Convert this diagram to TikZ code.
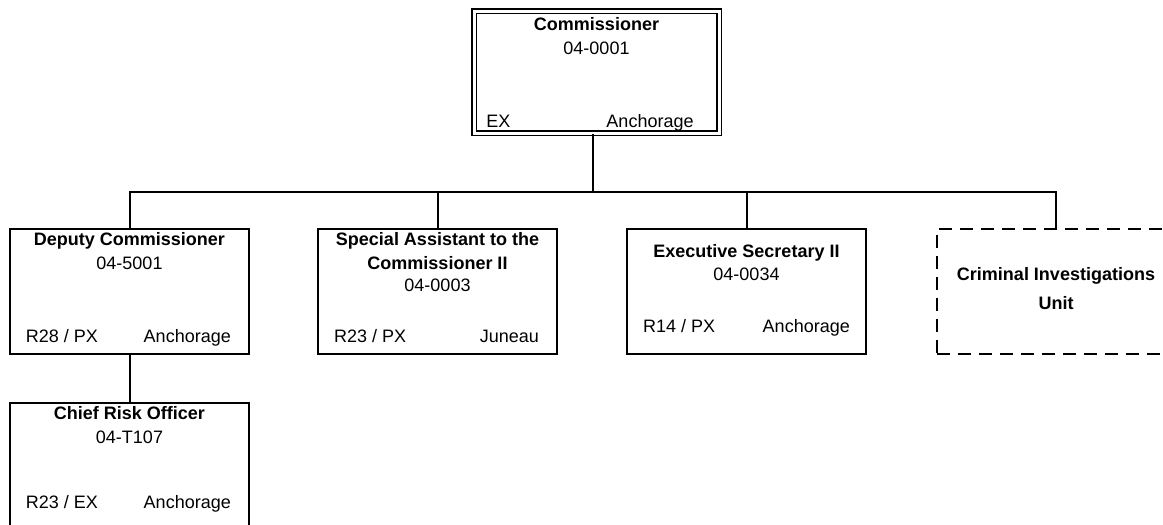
\documentclass[tikz,border=0pt]{standalone}
\usepackage{fontspec}
\setmainfont{Liberation Sans}
\usetikzlibrary{calc}
\tikzset{
  postbox/.style={draw=black,line width=2pt,minimum width=239pt,minimum height=125pt,inner sep=0pt},
  headbox/.style={postbox,double,line width=1.5pt,double distance=3pt,minimum width=245pt,minimum height=122pt},
  unitbox/.style={postbox,dash pattern=on 13pt off 8pt},
  linkline/.style={line width=2pt},
  ttl/.style={anchor=base,inner sep=0pt,font=\fontsize{18pt}{21pt}\selectfont\bfseries},
  idnum/.style={anchor=base,inner sep=0pt,font=\fontsize{18pt}{21pt}\selectfont},
  grade/.style={idnum,anchor=base west},
  city/.style={idnum,anchor=base east},
}
\begin{document}
\begin{tikzpicture}[x=1pt,y=-1pt]
  \useasboundingbox (0,0) rectangle (1163,525);
  \clip (0,0) rectangle (1163,525);

  % boxes
  \node[headbox] (com) at (596.5,72) {};
  \node[postbox] (dep) at (129.5,291) {};
  \node[postbox] (spc) at (437.5,291) {};
  \node[postbox] (exe) at (746.5,291) {};
  \node[unitbox] (cri) at (1056,291) {};
  \node[postbox] (chf) at (129.5,465.5) {};

  % commissioner
  \node[ttl] (comT) at ($(com.north)+(0,20.7)$) {Commissioner};
  \node[idnum] (comN) at ($(com.north)+(0,44)$) {04-0001};
  \node[grade] (comG) at ($(com.north west)+(13,117)$) {EX};
  \node[city] (comC) at ($(com.north east)+(-26,117)$) {Anchorage};

  % deputy
  \node[ttl] (depT) at ($(dep.north)+(0,18.2)$) {Deputy Commissioner};
  \node[idnum] (depN) at ($(dep.north)+(0,41.5)$) {04-5001};
  \node[grade] (depG) at ($(dep.north west)+(16.7,114.5)$) {R28 / PX};
  \node[city] (depC) at ($(dep.north east)+(-19,114.5)$) {Anchorage};

  % special assistant
  \node[ttl] (spcT) at ($(spc.north)+(0,18.2)$) {Special Assistant to the};
  \node[ttl] (spcU) at ($(spc.north)+(0,41.5)$) {Commissioner II};
  \node[idnum] (spcN) at ($(spc.north)+(0,64.2)$) {04-0003};
  \node[grade] (spcG) at ($(spc.north west)+(17,114.5)$) {R23 / PX};
  \node[city] (spcC) at ($(spc.north east)+(-19,114.5)$) {Juneau};

  % executive secretary
  \node[ttl] (exeT) at ($(exe.north)+(0,29.5)$) {Executive Secretary II};
  \node[idnum] (exeN) at ($(exe.north)+(0,52.5)$) {04-0034};
  \node[grade] (exeG) at ($(exe.north west)+(17,104.5)$) {R14 / PX};
  \node[city] (exeC) at ($(exe.north east)+(-17,104.5)$) {Anchorage};

  % criminal investigations
  \node[ttl] (criT) at ($(cri.north)+(0,52.5)$) {Criminal Investigations};
  \node[ttl] (criU) at ($(cri.north)+(0,81.5)$) {Unit};

  % chief risk officer
  \node[ttl] (chfT) at ($(chf.north)+(0,17.7)$) {Chief Risk Officer};
  \node[idnum] (chfN) at ($(chf.north)+(0,41)$) {04-T107};
  \node[grade] (chfG) at ($(chf.north west)+(16.7,106)$) {R23 / EX};
  \node[city] (chfC) at ($(chf.north east)+(-19,106)$) {Anchorage};

  % connectors
  \coordinate (bus) at ($(com.south)+(-4,58)$);
  \draw[linkline] (bus |- com.south) -- (bus);
  \draw[linkline] (dep.north) |- (bus) -| (cri.north);
  \draw[linkline] (spc.north) -- (spc.north |- bus);
  \draw[linkline] (exe.north) -- (exe.north |- bus);
  \draw[linkline] (dep.south) -- (chf.north);
\end{tikzpicture}
\end{document}
